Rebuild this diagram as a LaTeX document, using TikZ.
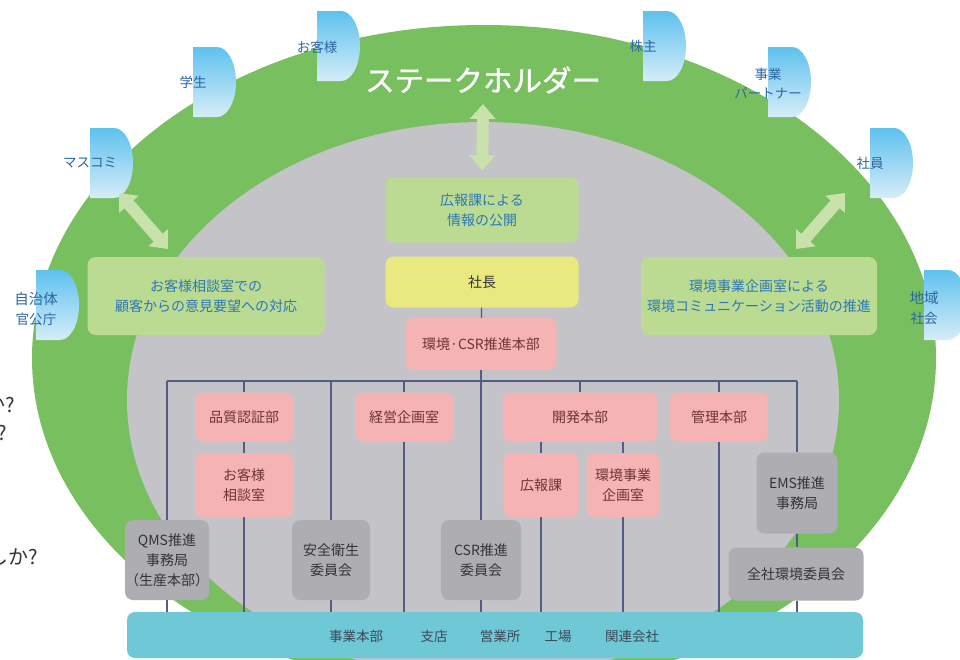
\documentclass[tikz,border=0pt]{standalone}
\usepackage{fontspec}
\setmainfont{Noto Sans CJK JP}
\newfontfamily\titlefont[AutoFakeBold=1.2]{Noto Sans CJK JP}
\usetikzlibrary{arrows.meta}
\definecolor{stkgreen}{HTML}{78BF5F}
\definecolor{innergray}{HTML}{C4C4C8}
\definecolor{boxgreen}{HTML}{BCDB92}
\definecolor{boxyellow}{HTML}{E8E97F}
\definecolor{boxpink}{HTML}{F5B3B4}
\definecolor{boxgray}{HTML}{ADADB2}
\definecolor{barteal}{HTML}{6FC8D6}
\definecolor{orglinecolor}{HTML}{565B86}
\definecolor{arrowgreen}{HTML}{C9E2AB}
\definecolor{tabtop}{HTML}{5EC1EE}
\definecolor{tabbot}{HTML}{D6EDF8}
\definecolor{bluetext}{HTML}{2C78B5}
\definecolor{tabtext}{HTML}{2D66A0}
\definecolor{pinktext}{HTML}{6E3434}
\definecolor{graytext}{HTML}{333338}
\definecolor{bartext}{HTML}{3C4858}
\newcommand\stkholder[5]{%
  \shade[top color=tabtop, bottom color=tabbot] (#2,#3) -- ++(24,0)
    arc[start angle=-90, end angle=90, x radius=19, y radius=35] -- ++(-24,0) -- cycle;
  \node[tablabel] (#1) at (#2,#3+35+#5) {#4};
}
\begin{document}
\begin{tikzpicture}[x=1pt,y=-1pt,
  box/.style={rectangle, rounded corners=8pt, inner sep=0pt, align=center, font=\fontsize{14}{20}\selectfont},
  greenbox/.style={box, fill=boxgreen, text=bluetext},
  yellowbox/.style={box, fill=boxyellow, text=graytext},
  pinkbox/.style={box, fill=boxpink, text=pinktext},
  graybox/.style={box, fill=boxgray, text=graytext, font=\fontsize{14}{20}\selectfont},
  barlabel/.style={text=bartext, font=\fontsize{13.5}{16}\selectfont, inner sep=0pt},
  orgline/.style={draw=orglinecolor, line width=1.2pt},
  bigarrow/.style={draw=arrowgreen, line width=12pt, {Triangle[width=25pt,length=15pt]}-{Triangle[width=25pt,length=15pt]}},
  tablabel/.style={text=tabtext, align=center, font=\fontsize{13.5}{20}\selectfont, inner sep=0pt},
  fragment/.style={anchor=east, text=graytext, font=\fontsize{20}{20}\selectfont, inner sep=0pt}
]
\useasboundingbox (0,0) rectangle (960,659);
\fill[white] (0,0) rectangle (960,659);

% stakeholder ring and company area
\fill[stkgreen] (484,358) ellipse [x radius=452, y radius=333];
\fill[innergray] (483,400) ellipse [x radius=356, y radius=278];

% fragments of text at the left edge (cut off in the reference too)
\node[fragment] (frag1) at (15,405) {か?};
\node[fragment] (frag2) at (7,433) {?};
\node[fragment] (frag3) at (38,557) {しか?};

% stakeholder tabs
\stkholder{masukomi}{90}{128}{マスコミ}{0}
\stkholder{gakusei}{193}{47}{学生}{0}
\stkholder{okyaku}{317}{11}{お客様}{1}
\stkholder{kabunushi}{643}{11}{株主}{0}
\stkholder{partner}{768}{47}{事業\\[-1pt]パートナー}{2}
\stkholder{shain}{870}{128}{社員}{0}
\stkholder{jichitai}{36}{270}{\fontsize{14.5}{24}\selectfont 自治体\\官公庁}{4}
\stkholder{chiiki}{924}{270}{\fontsize{14.5}{23}\selectfont 地域\\社会}{3}

\node[text=white, font=\titlefont\bfseries\fontsize{29.5}{30}\selectfont, inner sep=0pt] (title) at (483,80) {ステークホルダー};

% communication boxes
\node[greenbox, minimum width=193pt, minimum height=65pt] (kpub) at (482,210) {広報課による\\情報の公開};
\node[greenbox, minimum width=237pt, minimum height=78pt] (sresp) at (206,296) {お客様相談室での\\顧客からの意見要望への対応};
\node[greenbox, minimum width=236pt, minimum height=78pt] (envcomm) at (759,296) {環境事業企画室による\\環境コミュニケーション活動の推進};

% organisation
\node[yellowbox, minimum width=193pt, minimum height=51pt] (shacho) at (482,282) {社長};
\node[pinkbox, minimum width=151pt, minimum height=52pt] (csr) at (481,344) {環境·CSR推進本部};
\node[pinkbox, minimum width=98pt, minimum height=49pt] (hinshitsu) at (244,417) {品質認証部};
\node[pinkbox, minimum width=98pt, minimum height=64pt] (soudan) at (244,485) {お客様\\相談室};
\node[graybox, minimum width=79pt, minimum height=80pt] (qms) at (167,560) {QMS推進\\事務局\\（生産本部）};
\node[graybox, minimum width=78pt, minimum height=80pt] (anzen) at (331,560) {安全衛生\\委員会};
\node[pinkbox, minimum width=98pt, minimum height=49pt] (keiei) at (404,417) {経営企画室};
\node[graybox, minimum width=80pt, minimum height=80pt] (csrcomm) at (481,560) {CSR推進\\委員会};
\node[pinkbox, minimum width=155pt, minimum height=49pt] (kaihatsu) at (580,417) {開発本部};
\node[pinkbox, minimum width=75pt, minimum height=64pt] (kouhouka) at (541,485) {広報課};
\node[pinkbox, minimum width=73pt, minimum height=64pt] (kikaku) at (623,485) {環境事業\\企画室};
\node[pinkbox, minimum width=98pt, minimum height=49pt] (kanri) at (719,417) {管理本部};
\node[graybox, minimum width=81pt, minimum height=81pt] (ems) at (797,493) {EMS推進\\事務局};
\node[graybox, minimum width=135pt, minimum height=53pt] (zensha) at (796,574) {全社環境委員会};

% bottom bar
\node[fill=barteal, rounded corners=8pt, minimum width=736pt, minimum height=46pt, inner sep=0pt] (bar) at (495,635) {};
\node[barlabel] (jigyo) at (356,636) {事業本部};
\node[barlabel] (shiten) at (434,636) {支店};
\node[barlabel] (eigyo) at (500,636) {営業所};
\node[barlabel] (kojo) at (558,636) {工場};
\node[barlabel] (kanren) at (632,636) {関連会社};

% org connectors
\coordinate (hubL) at (167,381);
\coordinate (hubR) at (797,381);
\draw[orgline] (hubL) -- (hubR);
\draw[orgline] (shacho) -- (csr);
\draw[orgline] (csr.south) -- (csrcomm.north);
\draw[orgline] (csrcomm.south) -- (csrcomm.south |- bar.north);
\draw[orgline] (hubL) -- (qms.north);
\draw[orgline] (qms.south) -- (qms.south |- bar.north);
\draw[orgline] (hinshitsu |- hubL) -- (hinshitsu.north);
\draw[orgline] (hinshitsu.south) -- (soudan.north);
\draw[orgline] (soudan.south) -- (soudan.south |- bar.north);
\draw[orgline] (anzen |- hubL) -- (anzen.north);
\draw[orgline] (anzen.south) -- (anzen.south |- bar.north);
\draw[orgline] (keiei |- hubL) -- (keiei.north);
\draw[orgline] (keiei.south) -- (keiei.south |- bar.north);
\draw[orgline] (kaihatsu |- hubL) -- (kaihatsu.north);
\draw[orgline] (kaihatsu.south -| kouhouka) -- (kouhouka.north);
\draw[orgline] (kaihatsu.south -| kikaku) -- (kikaku.north);
\draw[orgline] (kouhouka.south) -- (kouhouka.south |- bar.north);
\draw[orgline] (kikaku.south) -- (kikaku.south |- bar.north);
\draw[orgline] (kanri |- hubL) -- (kanri.north);
\draw[orgline] (kanri.south) -- (kanri.south |- bar.north);
\draw[orgline] (hubR) -- (ems.north);
\draw[orgline] (ems.south) -- (ems.south |- zensha.north);
\draw[orgline] (zensha.south -| ems) -- (ems |- bar.north);

% communication arrows
\coordinate (arTop) at (483,104);
\draw[bigarrow, shorten >=7pt] (arTop) -- (kpub.north);
\coordinate (arL1) at (119,193);
\coordinate (arL2) at (168,249);
\draw[bigarrow] (arL1) -- (arL2);
\coordinate (arR1) at (845,193);
\coordinate (arR2) at (796,249);
\draw[bigarrow] (arR1) -- (arR2);
\end{tikzpicture}
\end{document}
